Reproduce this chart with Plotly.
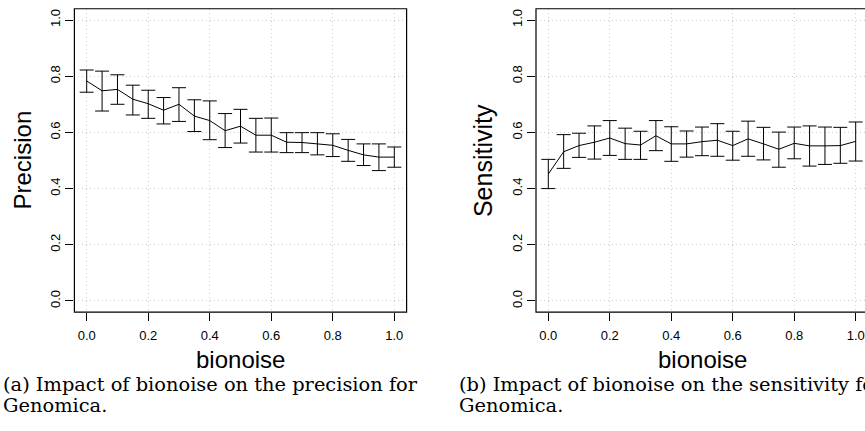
import plotly.graph_objects as go

# Noise levels tested
noise = [0.00, 0.05, 0.10, 0.15, 0.20, 0.25, 0.30, 0.35, 0.40, 0.45, 0.50,
         0.55, 0.60, 0.65, 0.70, 0.75, 0.80, 0.85, 0.90, 0.95, 1.00]

# Precision: mean and interval bounds
precision_mean = [0.783, 0.748, 0.753, 0.718, 0.702, 0.679, 0.700, 0.658, 0.642, 0.606, 0.622,
                  0.590, 0.590, 0.565, 0.564, 0.559, 0.554, 0.536, 0.520, 0.512, 0.512]
precision_upper = [0.822, 0.818, 0.805, 0.768, 0.750, 0.724, 0.759, 0.716, 0.712, 0.667, 0.682,
                   0.650, 0.651, 0.599, 0.599, 0.599, 0.595, 0.575, 0.559, 0.559, 0.548]
precision_lower = [0.743, 0.676, 0.700, 0.662, 0.650, 0.630, 0.639, 0.603, 0.574, 0.546, 0.562,
                   0.530, 0.530, 0.528, 0.528, 0.520, 0.514, 0.497, 0.482, 0.464, 0.476]

# Sensitivity: mean and interval bounds
sensitivity_mean = [0.452, 0.531, 0.553, 0.565, 0.580, 0.560, 0.555, 0.588, 0.559, 0.559, 0.567,
                    0.572, 0.553, 0.577, 0.559, 0.540, 0.561, 0.552, 0.552, 0.553, 0.568]
sensitivity_upper = [0.504, 0.592, 0.597, 0.623, 0.642, 0.615, 0.604, 0.642, 0.620, 0.605, 0.619,
                     0.631, 0.604, 0.640, 0.618, 0.601, 0.619, 0.623, 0.619, 0.618, 0.637]
sensitivity_lower = [0.400, 0.472, 0.511, 0.505, 0.518, 0.504, 0.504, 0.535, 0.497, 0.512, 0.517,
                     0.515, 0.501, 0.515, 0.502, 0.476, 0.506, 0.480, 0.486, 0.490, 0.498]

tick_vals = [0.0, 0.2, 0.4, 0.6, 0.8, 1.0]
tick_text = ["0.0", "0.2", "0.4", "0.6", "0.8", "1.0"]

W, H = 865, 431
SANS = "Liberation Sans, Arial, Helvetica, sans-serif"
SERIF = "DejaVu Serif, serif"


def px_x(p):
    return p / W


def px_y(p):
    return 1 - p / H


# Plot-area geometry (pixels)
L_LEFT, L_RIGHT = 74.4, 406.6
R_LEFT, R_BOX_RIGHT = 536.0, 868.0
TOP, BOTTOM = 8.76, 312.2

fig = go.Figure()


def add_panel(mean, upper, lower, xa, ya):
    fig.add_trace(go.Scatter(
        x=noise, y=mean, mode="lines",
        line=dict(color="black", width=1),
        error_y=dict(type="data", symmetric=False,
                     array=[u - m for u, m in zip(upper, mean)],
                     arrayminus=[m - l for m, l in zip(mean, lower)],
                     color="black", thickness=1, width=7),
        xaxis=xa, yaxis=ya, showlegend=False, hoverinfo="skip"))


add_panel(precision_mean, precision_upper, precision_lower, "x", "y")
add_panel(sensitivity_mean, sensitivity_upper, sensitivity_lower, "x2", "y2")

common = dict(
    showgrid=True, gridcolor="#d0d0d0", griddash="1px,3px", gridwidth=1,
    zeroline=False, showline=False,
    ticks="outside", ticklen=8, tickwidth=1, tickcolor="black",
    tickfont=dict(family=SANS, size=13, color="black"),
    tickmode="array", tickvals=tick_vals, ticktext=tick_text,
    fixedrange=True,
)
ydom = [px_y(BOTTOM), px_y(TOP)]

fig.update_layout(
    width=W, height=H,
    margin=dict(l=0, r=0, t=0, b=0),
    paper_bgcolor="white", plot_bgcolor="white",
    xaxis=dict(domain=[px_x(L_LEFT), px_x(L_RIGHT)], range=[-0.04, 1.04],
               anchor="y", ticklabelstandoff=3, **common),
    yaxis=dict(domain=ydom, range=[-0.04, 1.04], anchor="x",
               tickangle=-90, ticklabelstandoff=0, **common),
    xaxis2=dict(domain=[px_x(R_LEFT), 1.0],
                range=[-0.04, -0.04 + 1.08 * (W - R_LEFT) / (R_BOX_RIGHT - R_LEFT)],
                anchor="y2", ticklabelstandoff=3, **common),
    yaxis2=dict(domain=ydom, range=[-0.04, 1.04], anchor="x2",
                tickangle=-90, ticklabelstandoff=0, **common),
)

# Frame around each plot area
fig.add_shape(type="rect", xref="x domain", yref="y domain", x0=0, x1=1, y0=0, y1=1,
              line=dict(color="black", width=1.2), layer="above")
fig.add_shape(type="rect", xref="x2 domain", yref="y2 domain", x0=0,
              x1=(R_BOX_RIGHT - R_LEFT) / (W - R_LEFT), y0=0, y1=1,
              line=dict(color="black", width=1.2), layer="above")

ann = []
# Axis titles
for cx in [(L_LEFT + L_RIGHT) / 2, (R_LEFT + R_BOX_RIGHT) / 2]:
    ann.append(dict(text="bionoise", x=px_x(cx), y=px_y(359), xref="paper", yref="paper",
                    xanchor="center", yanchor="middle", showarrow=False,
                    font=dict(family=SANS, size=24, color="black")))
ann.append(dict(text="Precision", x=px_x(22), y=px_y((TOP + BOTTOM) / 2), xref="paper",
                yref="paper", xanchor="center", yanchor="middle", textangle=-90,
                showarrow=False, font=dict(family=SANS, size=24, color="black")))
ann.append(dict(text="Sensitivity", x=px_x(483.6), y=px_y((TOP + BOTTOM) / 2), xref="paper",
                yref="paper", xanchor="center", yanchor="middle", textangle=-90,
                showarrow=False, font=dict(family=SANS, size=25, color="black")))

# Sub-figure captions (the second one runs past the right edge of the page)
captions = [
    (1, ["(a) Impact of bionoise on the precision for", "Genomica."]),
    (456.7, ["(b) Impact of bionoise on the sensitivity for", "Genomica."]),
]
for x0, lines in captions:
    for i, line in enumerate(lines):
        ann.append(dict(text=line, x=px_x(x0), y=px_y(384.3 + 21.3 * i), xref="paper",
                        yref="paper", xanchor="left", yanchor="middle", showarrow=False,
                        font=dict(family=SERIF, size=19.4, color="black")))

fig.update_layout(annotations=ann)

fig.write_html("out.html")
